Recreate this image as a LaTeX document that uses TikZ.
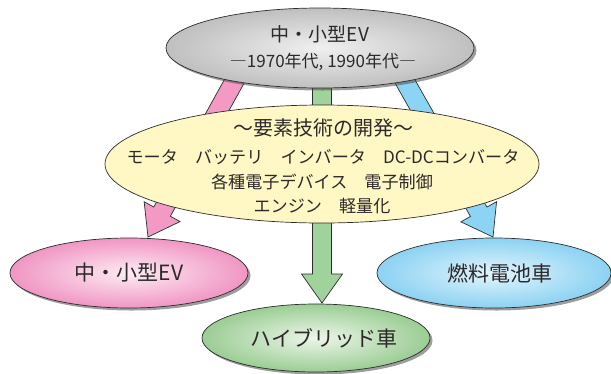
\documentclass[tikz,border=0pt]{standalone}
\usepackage{fontspec}
\setmainfont{Noto Sans CJK JP}
\usetikzlibrary{calc,shapes.geometric,shadows}
\definecolor{linec}{RGB}{45,45,45}
\definecolor{txtc}{RGB}{45,41,42}
\definecolor{yelF}{RGB}{255,248,196}
\definecolor{pinkE}{RGB}{240,150,195}
\definecolor{pinkI}{RGB}{253,236,244}
\definecolor{blueE}{RGB}{140,210,242}
\definecolor{blueI}{RGB}{226,245,253}
\definecolor{greenE}{RGB}{155,205,148}
\definecolor{greenI}{RGB}{236,246,233}
\definecolor{pinkA}{RGB}{242,154,196}
\definecolor{greenA}{RGB}{160,210,155}
\definecolor{blueA}{RGB}{140,212,244}
\newcommand\fatarrow[3]{%
  \coordinate (h#1) at ($(#3)!29pt!(#2)$);
  \draw[fill=#1, draw=linec, line width=0.7pt, line join=miter]
    ($(#2)!9.5pt!90:(#3)$) -- ($(h#1)!9.5pt!90:(#3)$) -- ($(h#1)!20.5pt!90:(#3)$)
    -- (#3) -- ($(h#1)!20.5pt!-90:(#3)$) -- ($(h#1)!9.5pt!-90:(#3)$)
    -- ($(#2)!9.5pt!-90:(#3)$) -- cycle;}
\tikzset{
  ell/.style={ellipse, draw=linec, line width=0.7pt, inner sep=0pt},
  shad/.style={drop shadow={shadow xshift=2.5pt, shadow yshift=-2.5pt, opacity=0.55, fill=black!70}},
  txt/.style={text=txtc, inner sep=0pt},
}
\begin{document}
\begin{tikzpicture}[x=1pt,y=-1pt]
\useasboundingbox (0,0) rectangle (611,373);
% arrows (behind ellipses)
\coordinate (pS) at (245,62);
\coordinate (pT) at (148,237);
\coordinate (gS) at (322,60);
\coordinate (gT) at (322,303);
\coordinate (bS) at (394,62);
\coordinate (bT) at (493,237);
\fatarrow{pinkA}{pS}{pT}
\fatarrow{greenA}{gS}{gT}
\fatarrow{blueA}{bS}{bT}
% middle ellipse
\node[ell, fill=yelF, minimum width=434pt, minimum height=118pt] (mid) at (322,164) {};
% top ellipse
\node[ell, shad, inner color=gray!12, outer color=gray!50, minimum width=308pt, minimum height=80pt] (top) at (320,48) {};
% bottom ellipses
\node[ell, shad, inner color=pinkI, outer color=pinkE, minimum width=238pt, minimum height=70pt] (ev) at (129,273) {};
\node[ell, shad, inner color=blueI, outer color=blueE, minimum width=234pt, minimum height=70pt] (fc) at (494,273) {};
\node[ell, shad, inner color=greenI, outer color=greenE, minimum width=228pt, minimum height=68pt] (hv) at (316,338) {};
% texts
\node[txt, font=\fontsize{19}{22}\selectfont] (topT1) at (320,34) {中・小型EV};
\node[txt, font=\fontsize{17}{20}\selectfont] (topT2) at (323,62) {―1970年代, 1990年代―};
\node[txt, font=\fontsize{20}{23}\selectfont] (midT1) at (323,128) {～要素技術の開発～};
\node[txt, font=\fontsize{17.1}{20}\selectfont] (midT2) at (323,157) {モータ　バッテリ　インバータ　DC-DCコンバータ};
\node[txt, font=\fontsize{17.1}{20}\selectfont] (midT3) at (322,182) {各種電子デバイス　電子制御};
\node[txt, font=\fontsize{17.1}{20}\selectfont] (midT4) at (322,206) {エンジン　軽量化};
\node[txt, font=\fontsize{21}{24}\selectfont] (evT) at (129,273) {中・小型EV};
\node[txt, font=\fontsize{21}{24}\selectfont] (fcT) at (500,273) {燃料電池車};
\node[txt, font=\fontsize{21}{24}\selectfont] (hvT) at (324,338) {ハイブリッド車};
\end{tikzpicture}
\end{document}
